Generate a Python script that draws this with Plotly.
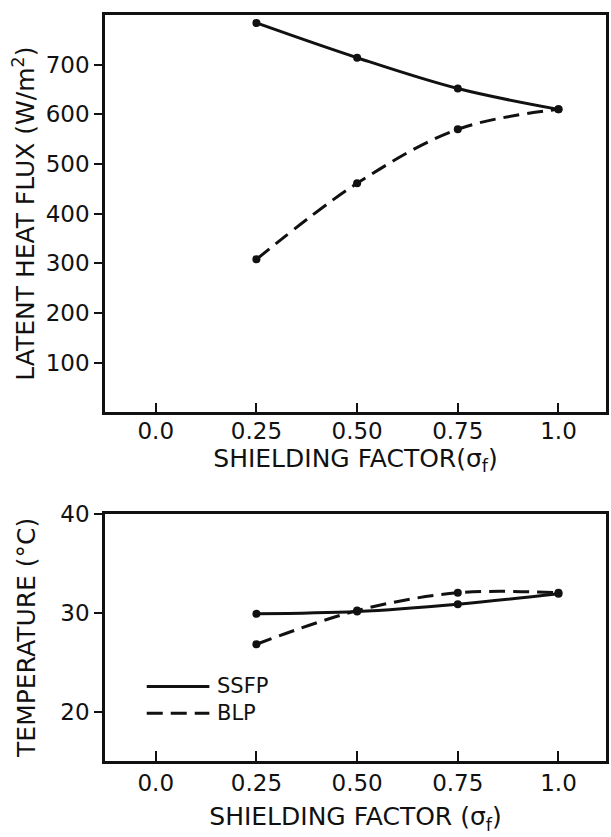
import plotly.graph_objects as go

sigma = [0.25, 0.50, 0.75, 1.0]
flux_ssfp = [784, 714, 652, 610]
flux_blp = [308, 461, 570, 610]
temp_ssfp = [29.87, 30.1, 30.84, 31.9]
temp_blp = [26.8, 30.2, 32.0, 32.0]

x_ticks = [0.0, 0.25, 0.50, 0.75, 1.0]
x_ticklabels = ["0.0", "0.25", "0.50", "0.75", "1.0"]
flux_ticks = [100, 200, 300, 400, 500, 600, 700]
temp_ticks = [20, 30, 40]
legend_names = ["SSFP", "BLP"]

FONT = "DejaVu Sans, Liberation Sans, sans-serif"
BLACK = "#111111"
DASH = "16px,8px"

fig = go.Figure()

def add_series(x, y, dash, name, xa, ya):
    fig.add_trace(go.Scatter(
        x=x, y=y, mode="lines", name=name, line=dict(color=BLACK, width=3, dash=dash, shape="spline"),
        xaxis=xa, yaxis=ya, showlegend=False, hoverinfo="skip"))
    fig.add_trace(go.Scatter(
        x=x, y=y, mode="markers", name=name, marker=dict(color=BLACK, size=8),
        xaxis=xa, yaxis=ya, showlegend=False, hoverinfo="skip"))

add_series(sigma, flux_ssfp, "solid", "SSFP", "x", "y")
add_series(sigma, flux_blp, DASH, "BLP", "x", "y")
add_series(sigma, temp_ssfp, "solid", "SSFP", "x2", "y2")
add_series(sigma, temp_blp, DASH, "BLP", "x2", "y2")

# hand-drawn style legend (long line samples) inside the lower panel
legend_y = [0.0999, 0.0639]
legend_dash = ["solid", DASH]
for name, ly, dsh in zip(legend_names, legend_y, legend_dash):
    fig.add_shape(type="line", xref="paper", yref="paper", x0=0.0833, x1=0.2083, y0=ly, y1=ly,
                  line=dict(color=BLACK, width=3, dash=dsh))
    fig.add_annotation(xref="paper", yref="paper", x=0.2200, y=ly, text=name, showarrow=False,
                       xanchor="left", yanchor="middle",
                       font=dict(family=FONT, size=21, color=BLACK))

xcommon = dict(range=[-0.126, 1.118], tickvals=x_ticks, ticktext=x_ticklabels,
               ticks="inside", ticklen=10, tickwidth=2, tickcolor=BLACK,
               showline=True, linewidth=2.5, linecolor=BLACK, mirror=True,
               showgrid=False, zeroline=False,
               tickfont=dict(family=FONT, size=23, color=BLACK))
ycommon = dict(ticks="outside", ticklen=8, tickwidth=2, tickcolor=BLACK,
               showline=True, linewidth=2.5, linecolor=BLACK, mirror=True,
               showgrid=False, zeroline=False,
               tickfont=dict(family=FONT, size=23, color=BLACK))

fig.update_layout(
    width=611, height=837,
    margin=dict(l=105, r=2, t=10, b=76),
    plot_bgcolor="white", paper_bgcolor="white",
    font=dict(family=FONT, color=BLACK),
    showlegend=False,
    xaxis=dict(**xcommon, domain=[0, 1], anchor="y", ticklabelstandoff=-4,
               title=dict(text="SHIELDING FACTOR(σ<sub>f</sub>)", font=dict(family=FONT, size=25), standoff=0)),
    yaxis=dict(**ycommon, domain=[0.4674, 1.0], anchor="x", range=[0, 800], tickvals=flux_ticks,
               title=dict(text="LATENT HEAT FLUX (W/m<sup>2</sup>)", font=dict(family=FONT, size=25), standoff=4)),
    xaxis2=dict(**xcommon, domain=[0, 1], anchor="y2",
                title=dict(text="SHIELDING FACTOR (σ<sub>f</sub>)", font=dict(family=FONT, size=25), standoff=13)),
    yaxis2=dict(**ycommon, domain=[0.0, 0.3316], anchor="x2", range=[15, 40], tickvals=temp_ticks,
                title=dict(text="TEMPERATURE (°C)", font=dict(family=FONT, size=25), standoff=18)),
)

fig.write_html("out.html")
